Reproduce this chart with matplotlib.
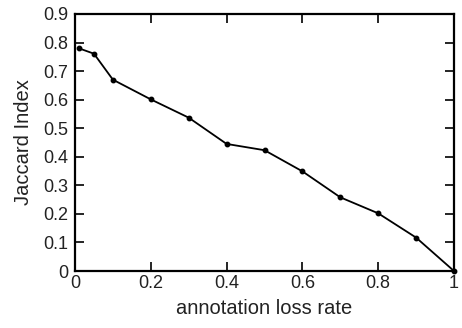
import numpy as np
import matplotlib
matplotlib.use("Agg")
import matplotlib.pyplot as plt

plt.rcParams['font.family'] = ['Liberation Sans', 'DejaVu Sans']

# annotation loss rate vs Jaccard index
loss_rate = [0.01, 0.05, 0.1, 0.2, 0.3, 0.4, 0.5, 0.6, 0.7, 0.8, 0.9, 1.0]
jaccard = [0.78, 0.761, 0.67, 0.601, 0.537, 0.445, 0.423, 0.349, 0.258, 0.202, 0.117, 0.0]

x_ticks = [0, 0.2, 0.4, 0.6, 0.8, 1]
x_labels = ['0', '0.2', '0.4', '0.6', '0.8', '1']
y_ticks = [0, 0.1, 0.2, 0.3, 0.4, 0.5, 0.6, 0.7, 0.8, 0.9]
y_labels = ['0', '0.1', '0.2', '0.3', '0.4', '0.5', '0.6', '0.7', '0.8', '0.9']

fig = plt.figure(figsize=(4.62, 3.28), dpi=100)
ax = fig.add_axes([75/462, 1-271/328, 379/462, 257/328])

ax.plot(loss_rate, jaccard, color='black', lw=1.3, marker='o', ms=3.2, clip_on=False, zorder=3)

ax.set_xlim(0, 1)
ax.set_ylim(0, 0.9)
ax.set_xticks(x_ticks)
ax.set_xticklabels(x_labels)
ax.set_yticks(y_ticks)
ax.set_yticklabels(y_labels)
ax.tick_params(direction='in', length=6.5, width=1.2, top=True, right=True,
               labelsize=13, labelcolor='#222222', pad=5)
ax.tick_params(axis='x', pad=3)
for s in ax.spines.values():
    s.set_linewidth(1.6)

ax.set_xlabel('annotation loss rate', fontsize=14.5, color='#222222', labelpad=5)
ax.set_ylabel('Jaccard Index', fontsize=14.5, color='#222222', labelpad=7)

fig.savefig('out.png', dpi=100)
